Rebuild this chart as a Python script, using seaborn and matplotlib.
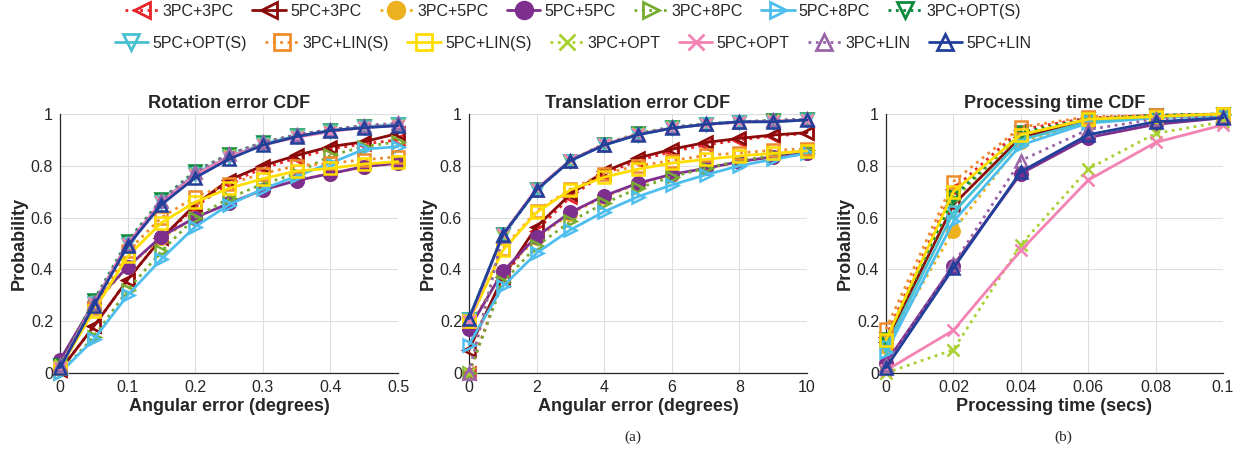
import numpy as np
import pandas as pd
import matplotlib
matplotlib.use("Agg")
import matplotlib.pyplot as plt
import seaborn as sns
from matplotlib.lines import Line2D

# x grids of the three panels
rot_x = [0, 0.05, 0.1, 0.15, 0.2, 0.25, 0.3, 0.35, 0.4, 0.45, 0.5]
trans_x = [0, 1, 2, 3, 4, 5, 6, 7, 8, 9, 10]
time_x = [0, 0.02, 0.04, 0.06, 0.08, 0.1]

methods = ["3PC+3PC", "5PC+3PC", "3PC+5PC", "5PC+5PC", "3PC+8PC", "5PC+8PC", "3PC+OPT(S)",
           "5PC+OPT(S)", "3PC+LIN(S)", "5PC+LIN(S)", "3PC+OPT", "5PC+OPT", "3PC+LIN", "5PC+LIN"]

# Rotation error CDF
rot_vals = {
    "3PC+3PC":    [0.01, 0.18, 0.36, 0.52, 0.64, 0.735, 0.79, 0.83, 0.865, 0.885, 0.90],
    "5PC+3PC":    [0.01, 0.18, 0.36, 0.52, 0.65, 0.745, 0.80, 0.84, 0.874, 0.893, 0.925],
    "3PC+5PC":    [0.04, 0.26, 0.41, 0.52, 0.60, 0.655, 0.705, 0.745, 0.77, 0.795, 0.81],
    "5PC+5PC":    [0.05, 0.27, 0.41, 0.527, 0.60, 0.655, 0.707, 0.743, 0.77, 0.797, 0.81],
    "3PC+8PC":    [0.0, 0.14, 0.32, 0.47, 0.60, 0.675, 0.73, 0.77, 0.84, 0.874, 0.893],
    "5PC+8PC":    [0.0, 0.13, 0.30, 0.44, 0.565, 0.65, 0.71, 0.76, 0.81, 0.864, 0.874],
    "3PC+OPT(S)": [0.03, 0.28, 0.51, 0.67, 0.78, 0.845, 0.89, 0.92, 0.94, 0.955, 0.96],
    "5PC+OPT(S)": [0.02, 0.27, 0.50, 0.66, 0.77, 0.835, 0.885, 0.915, 0.935, 0.95, 0.96],
    "3PC+LIN(S)": [0.02, 0.25, 0.47, 0.60, 0.68, 0.73, 0.77, 0.80, 0.81, 0.823, 0.835],
    "5PC+LIN(S)": [0.02, 0.24, 0.45, 0.58, 0.66, 0.713, 0.75, 0.78, 0.79, 0.807, 0.816],
    "3PC+OPT":    [0.03, 0.27, 0.50, 0.66, 0.77, 0.84, 0.885, 0.915, 0.935, 0.95, 0.958],
    "5PC+OPT":    [0.02, 0.27, 0.50, 0.66, 0.765, 0.835, 0.88, 0.91, 0.932, 0.948, 0.955],
    "3PC+LIN":    [0.03, 0.27, 0.50, 0.665, 0.775, 0.845, 0.89, 0.92, 0.94, 0.955, 0.965],
    "5PC+LIN":    [0.02, 0.26, 0.49, 0.65, 0.754, 0.826, 0.88, 0.913, 0.936, 0.947, 0.955],
}

# Translation error CDF
trans_vals = {
    "3PC+3PC":    [0.0, 0.36, 0.55, 0.68, 0.77, 0.82, 0.855, 0.88, 0.90, 0.915, 0.925],
    "5PC+3PC":    [0.09, 0.37, 0.565, 0.69, 0.778, 0.83, 0.864, 0.89, 0.906, 0.919, 0.928],
    "3PC+5PC":    [0.18, 0.39, 0.52, 0.615, 0.68, 0.73, 0.765, 0.79, 0.815, 0.835, 0.85],
    "5PC+5PC":    [0.17, 0.392, 0.527, 0.62, 0.684, 0.733, 0.767, 0.79, 0.816, 0.835, 0.85],
    "3PC+8PC":    [0.0, 0.35, 0.49, 0.585, 0.655, 0.713, 0.758, 0.79, 0.82, 0.84, 0.86],
    "5PC+8PC":    [0.11, 0.334, 0.463, 0.553, 0.623, 0.681, 0.726, 0.765, 0.80, 0.825, 0.848],
    "3PC+OPT(S)": [0.21, 0.535, 0.71, 0.82, 0.885, 0.925, 0.95, 0.962, 0.97, 0.975, 0.98],
    "5PC+OPT(S)": [0.21, 0.533, 0.707, 0.82, 0.88, 0.92, 0.945, 0.96, 0.97, 0.97, 0.977],
    "3PC+LIN(S)": [0.20, 0.48, 0.625, 0.71, 0.77, 0.80, 0.82, 0.84, 0.85, 0.86, 0.865],
    "5PC+LIN(S)": [0.20, 0.473, 0.62, 0.707, 0.756, 0.787, 0.81, 0.825, 0.838, 0.848, 0.857],
    "3PC+OPT":    [0.0, 0.53, 0.71, 0.82, 0.885, 0.925, 0.948, 0.96, 0.968, 0.975, 0.978],
    "5PC+OPT":    [0.20, 0.535, 0.712, 0.822, 0.883, 0.922, 0.946, 0.96, 0.968, 0.972, 0.977],
    "3PC+LIN":    [0.0, 0.53, 0.707, 0.82, 0.882, 0.922, 0.948, 0.96, 0.97, 0.975, 0.98],
    "5PC+LIN":    [0.21, 0.533, 0.707, 0.82, 0.88, 0.92, 0.945, 0.96, 0.97, 0.97, 0.977],
}

# Processing time CDF
time_vals = {
    "3PC+3PC":    [0.14, 0.71, 0.94, 0.985, 0.995, 1.0],
    "5PC+3PC":    [0.12, 0.65, 0.91, 0.975, 0.99, 0.995],
    "3PC+5PC":    [0.10, 0.55, 0.89, 0.97, 0.99, 0.995],
    "5PC+5PC":    [0.04, 0.415, 0.77, 0.909, 0.96, 0.985],
    "3PC+8PC":    [0.13, 0.67, 0.92, 0.98, 0.995, 1.0],
    "5PC+8PC":    [0.08, 0.585, 0.88, 0.965, 0.985, 0.995],
    "3PC+OPT(S)": [0.13, 0.68, 0.93, 0.98, 0.995, 1.0],
    "5PC+OPT(S)": [0.10, 0.62, 0.90, 0.97, 0.99, 0.995],
    "3PC+LIN(S)": [0.17, 0.739, 0.949, 0.99, 0.995, 1.0],
    "5PC+LIN(S)": [0.128, 0.70, 0.92, 0.98, 0.99, 1.0],
    "3PC+OPT":    [0.0, 0.09, 0.495, 0.788, 0.925, 0.97],
    "5PC+OPT":    [0.01, 0.165, 0.473, 0.745, 0.89, 0.958],
    "3PC+LIN":    [0.03, 0.42, 0.82, 0.94, 0.98, 0.99],
    "5PC+LIN":    [0.02, 0.405, 0.777, 0.92, 0.97, 0.985],
}

colors = ["#e8242a", "#8b0a0a", "#edb120", "#7e2f8e", "#77ac30", "#4dbeee", "#0a8a3a",
          "#48c0d0", "#f08c2c", "#ffdd00", "#a8d030", "#f283b4", "#9a64a8", "#223f9a"]
markers = ["<", "<", "o", "o", ">", ">", "v", "v", "s", "s", "x", "x", "^", "^"]
styles = [":", "-", ":", "-", ":", "-", ":", "-", ":", "-", ":", "-", ":", "-"]
filled = [False, False, True, True, False, False, False, False, False, False, False, False, False, False]

sns.set_theme(style="whitegrid")
plt.rcParams["font.family"] = ["Liberation Sans", "DejaVu Sans"]

fig = plt.figure(figsize=(12.4, 4.55), dpi=100)

panels = [
    ([60, 338], rot_x, rot_vals, "Rotation error CDF", "Angular error (degrees)",
     [0, 0.1, 0.2, 0.3, 0.4, 0.5], ["0", "0.1", "0.2", "0.3", "0.4", "0.5"]),
    ([469, 338], trans_x, trans_vals, "Translation error CDF", "Angular error (degrees)",
     [0, 2, 4, 6, 8, 10], ["0", "2", "4", "6", "8", "10"]),
    ([886, 337], time_x, time_vals, "Processing time CDF", "Processing time (secs)",
     [0, 0.02, 0.04, 0.06, 0.08, 0.1], ["0", "0.02", "0.04", "0.06", "0.08", "0.1"]),
]

for (left, width), xs, vals, title, xlabel, xt, xtl in panels:
    ax = fig.add_axes([left / 1240, 82 / 455, width / 1240, 259 / 455])
    for i, m in enumerate(methods):
        df = pd.DataFrame({"x": xs, "y": vals[m]})
        sns.lineplot(data=df, x="x", y="y", ax=ax, color=colors[i], linestyle=styles[i],
                     linewidth=2, marker=markers[i], markersize=9,
                     markeredgecolor=colors[i], markeredgewidth=1.8,
                     markerfacecolor=colors[i] if filled[i] else "none",
                     clip_on=False, zorder=3 + i)
    ax.set_xlim(xt[0], xt[-1])
    ax.set_ylim(0, 1)
    ax.set_xticks(xt)
    ax.set_xticklabels(xtl)
    ax.set_yticks([0, 0.2, 0.4, 0.6, 0.8, 1])
    ax.set_yticklabels(["0", "0.2", "0.4", "0.6", "0.8", "1"])
    ax.tick_params(labelsize=11.5, colors="#262626", length=0, pad=5)
    ax.grid(True, color="#dedede", linewidth=0.8)
    for s in ["top", "right"]:
        ax.spines[s].set_visible(False)
    for s in ["left", "bottom"]:
        ax.spines[s].set_color("#262626")
        ax.spines[s].set_linewidth(0.9)
    ax.set_facecolor("white")
    ax.set_title(title, fontsize=13, fontweight="bold", pad=4)
    ax.set_xlabel(xlabel, fontsize=13, fontweight="bold", labelpad=2, color="#262626")
    ax.set_ylabel("Probability", fontsize=13, fontweight="bold", labelpad=2, color="#262626")

# legend handles in the two rows of the original
handles = [Line2D([], [], color=colors[i], linestyle=styles[i], linewidth=2,
                  marker=markers[i], markersize=12, markeredgewidth=2,
                  markerfacecolor=colors[i] if filled[i] else "none")
           for i in range(len(methods))]
for row, y in [(0, 0.975), (1, 0.905)]:
    sl = slice(row * 7, row * 7 + 7)
    fig.legend(handles[sl], methods[sl], loc="center", bbox_to_anchor=(0.462, y),
               ncol=7, frameon=False, fontsize=11.5, handlelength=2.1,
               handletextpad=0.25, columnspacing=1.15, borderaxespad=0)

fig.text(633 / 1240, 1 - 437 / 455, "(a)", ha="center", va="center", fontsize=11,
         family=["Liberation Serif", "DejaVu Serif"])
fig.text(1063 / 1240, 1 - 437 / 455, "(b)", ha="center", va="center", fontsize=11,
         family=["Liberation Serif", "DejaVu Serif"])

fig.savefig("out.png", dpi=100, facecolor="white")
